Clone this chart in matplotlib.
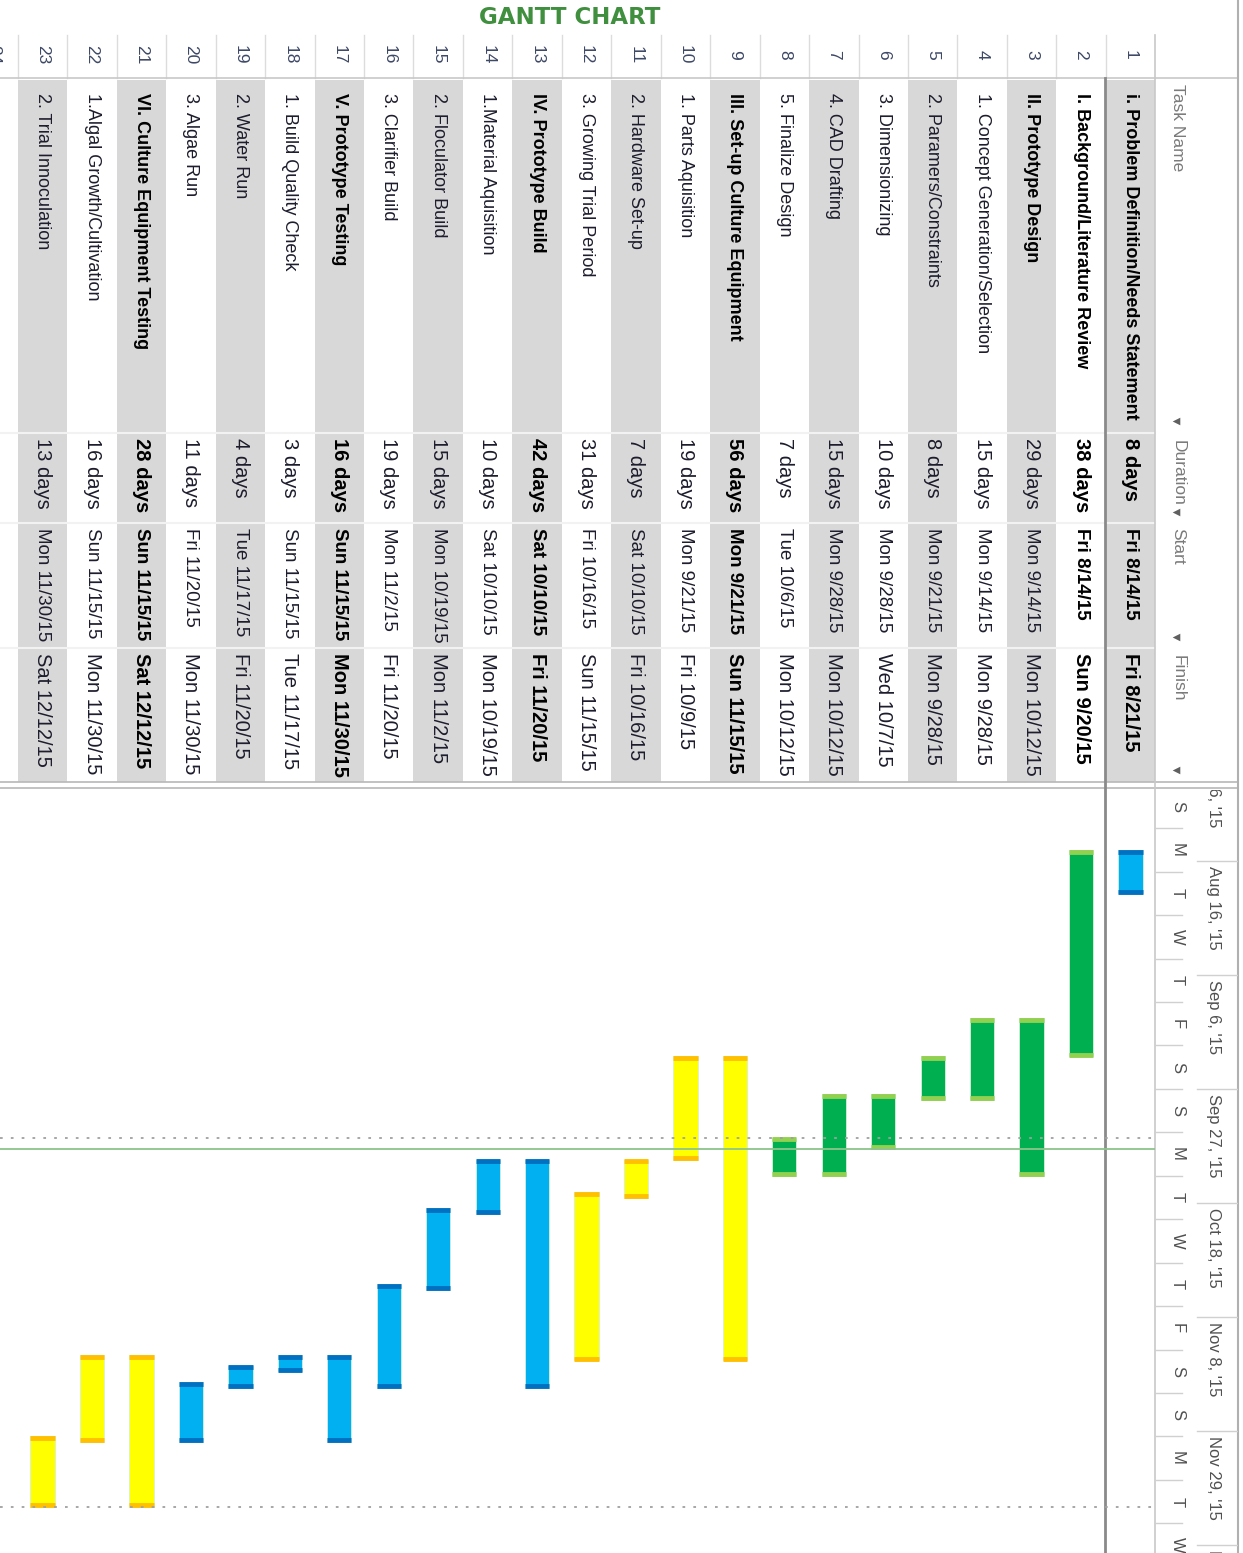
import datetime as dt
import matplotlib.pyplot as plt
import matplotlib.dates as mdates

plt.rcParams['font.family'] = ['Liberation Sans Narrow', 'Liberation Sans', 'DejaVu Sans']

# ---- data ----
row_ids = list(range(1, 24))
task_names = [
    "i. Problem Definition/Needs Statement",
    "I. Background/Literature Review",
    "II. Prototype Design",
    "1. Concept Generation/Selection",
    "2. Paramers/Constraints",
    "3. Dimensionizing",
    "4. CAD Drafting",
    "5. Finalize Design",
    "III. Set-up Culture Equipment",
    "1. Parts Aquisition",
    "2. Hardware Set-up",
    "3. Growing Trial Period",
    "IV. Prototype Build",
    "1.Material Aquisition",
    "2. Floculator Build",
    "3. Clarifier Build",
    "V. Prototype Testing",
    "1. Build Quality Check",
    "2. Water Run",
    "3. Algae Run",
    "VI. Culture Equipment Testing",
    "1.Algal Growth/Cultivation",
    "2. Trial Innoculation",
]
durations = ["8 days", "38 days", "29 days", "15 days", "8 days", "10 days", "15 days",
             "7 days", "56 days", "19 days", "7 days", "31 days", "42 days", "10 days",
             "15 days", "19 days", "16 days", "3 days", "4 days", "11 days", "28 days",
             "16 days", "13 days"]
starts = ["Fri 8/14/15", "Fri 8/14/15", "Mon 9/14/15", "Mon 9/14/15", "Mon 9/21/15",
          "Mon 9/28/15", "Mon 9/28/15", "Tue 10/6/15", "Mon 9/21/15", "Mon 9/21/15",
          "Sat 10/10/15", "Fri 10/16/15", "Sat 10/10/15", "Sat 10/10/15", "Mon 10/19/15",
          "Mon 11/2/15", "Sun 11/15/15", "Sun 11/15/15", "Tue 11/17/15", "Fri 11/20/15",
          "Sun 11/15/15", "Sun 11/15/15", "Mon 11/30/15"]
finishes = ["Fri 8/21/15", "Sun 9/20/15", "Mon 10/12/15", "Mon 9/28/15", "Mon 9/28/15",
            "Wed 10/7/15", "Mon 10/12/15", "Mon 10/12/15", "Sun 11/15/15", "Fri 10/9/15",
            "Fri 10/16/15", "Sun 11/15/15", "Fri 11/20/15", "Mon 10/19/15", "Mon 11/2/15",
            "Fri 11/20/15", "Mon 11/30/15", "Tue 11/17/15", "Fri 11/20/15", "Mon 11/30/15",
            "Sat 12/12/15", "Mon 11/30/15", "Sat 12/12/15"]
bar_group = ["blue"] + ["green"] * 7 + ["yellow"] * 4 + ["blue"] * 8 + ["yellow"] * 3
bold_name_rows = [1, 2, 3, 9, 13, 17, 21]
bold_field_rows = [1, 2, 9, 13, 17, 21]

# timescale
top_tier_dates = ["2015-07-26", "2015-08-16", "2015-09-06", "2015-09-27",
                  "2015-10-18", "2015-11-08", "2015-11-29", "2015-12-20"]
bottom_tier_start = "2015-08-02"
bottom_tier_letters = ["S", "M", "T", "W", "T", "F", "S", "S", "M", "T", "W", "T",
                       "F", "S", "S", "M", "T", "W", "T"]
status_date = "2015-10-08"
dotted_dates = ["2015-10-06", "2015-12-13"]

fills = {"blue": "#00b0f0", "green": "#00b050", "yellow": "#ffff00"}
caps = {"blue": "#0070c0", "green": "#92d050", "yellow": "#ffc000"}


def parse(s):
    return dt.datetime.strptime(s.split()[1], "%m/%d/%y")


W, H = 1243, 1553
fig = plt.figure(figsize=(W / 100, H / 100), dpi=100)
base = fig.add_axes([0, 0, 1, 1])
base.set_xlim(0, W)
base.set_ylim(H, 0)
base.axis("off")
renderer = fig.canvas.get_renderer()

pitch = 49.45
x1 = 1130.5


def xc(i):
    return x1 - (i - 1) * pitch


def fit(texts, maxlen, size):
    # shrink a column's font until its longest entry fits the cell
    while size > 6:
        for t in texts:
            t.set_fontsize(size)
        longest = max(t.get_window_extent(renderer).height for t in texts)
        if longest <= maxlen:
            break
        size -= 0.25


txt = "#1c1c2c"
shade = "#d8d8d8"

# title
base.text(570, 18, "GANTT CHART", ha="center", va="center", color="#3f8f3f",
          fontsize=16.5, fontweight="bold", family="DejaVu Sans")

# table rows
for i in row_ids + [24]:
    c = xc(i)
    if i % 2 == 1 and i <= 23:
        base.add_patch(plt.Rectangle((c - pitch / 2, 80), pitch, 702, color=shade, lw=0))
    base.plot([c - pitch / 2] * 2, [35, 78], color="#dcdcdc", lw=1)
    base.text(c, 55, str(i), rotation=270, ha="center", va="center", fontsize=12.5,
              color="#3d4866")

cols = {"name": [], "dur": [], "start": [], "finish": []}
for i, name, dur, st, fi in zip(row_ids, task_names, durations, starts, finishes):
    c = xc(i)
    wn = "bold" if i in bold_name_rows else "normal"
    wf = "bold" if i in bold_field_rows else "normal"
    cn = "#000000" if wn == "bold" else txt
    cf = "#000000" if wf == "bold" else txt
    cols["name"].append(base.text(c, 93, name, rotation=270, ha="center", va="top",
                                  fontweight=wn, color=cn))
    cols["dur"].append(base.text(c, 438, dur, rotation=270, ha="center", va="top",
                                 fontweight=wf, color=cf))
    cols["start"].append(base.text(c, 528, st, rotation=270, ha="center", va="top",
                                   fontweight=wf, color=cf))
    cols["finish"].append(base.text(c, 653, fi, rotation=270, ha="center", va="top",
                                    fontweight=wf, color=cf))
fit(cols["name"], 332, 15.5)
fit(cols["dur"], 80, 14.5)
fit(cols["start"], 116, 14.5)
fit(cols["finish"], 124, 14.5)

# table grid lines
for yy in [433, 523, 648]:
    base.plot([0, 1155], [yy, yy], color="#f2f2f2", lw=1.5)
base.plot([0, 1238], [78, 78], color="#c8c8c8", lw=1.2)
base.plot([0, 1238], [782, 782], color="#b8b8b8", lw=1.2)
base.plot([0, 1238], [788, 788], color="#b8b8b8", lw=1.2)
base.plot([1155, 1155], [35, H], color="#c8c8c8", lw=1.2)
base.plot([1238, 1238], [0, H], color="#b0b0b0", lw=1.5)
base.plot([1105, 1105], [78, H], color="#8a8a8a", lw=2)

# header column labels
hdr = "#7a7a7a"
base.text(1178, 84, "Task Name", rotation=270, ha="center", va="top", fontsize=12.5, color=hdr)
base.text(1178, 440, "Duration", rotation=270, ha="center", va="top", fontsize=12.5, color=hdr)
base.text(1178, 528, "Start", rotation=270, ha="center", va="top", fontsize=12.5, color=hdr)
base.text(1178, 655, "Finish", rotation=270, ha="center", va="top", fontsize=12.5, color=hdr)
base.scatter([1176] * 4, [421, 512, 637, 770], marker="<", s=30, color="#606060", lw=0)

# ---- gantt panel ----
px_day = 5.43
d0 = dt.datetime(2015, 8, 14)
top = mdates.date2num(d0) - (850 - 790) / px_day
bot = mdates.date2num(d0) + (H - 850) / px_day
gax = fig.add_axes([0, 0, 1155 / W, (H - 790) / H])
gax.set_xlim(1 + x1 / pitch, 1 - (1155 - x1) / pitch)
gax.set_ylim(bot, top)
gax.axis("off")

s_num = [mdates.date2num(parse(s)) for s in starts]
e_num = [mdates.date2num(parse(f)) + 1 for f in finishes]
for i, s, e, g in zip(row_ids, s_num, e_num, bar_group):
    gax.bar(i, e - s, bottom=s, width=0.49, color=fills[g], edgecolor="#d8f0d8",
            linewidth=0.6)
    gax.hlines([s + 0.3, e - 0.3], i - 0.245, i + 0.245, color=caps[g], lw=3.5)

for d in dotted_dates:
    y = mdates.date2num(dt.datetime.fromisoformat(d))
    gax.axhline(y, color="#a0a0a0", lw=1.3, ls=(0, (1.5, 4.5)))
gax.axhline(mdates.date2num(dt.datetime.fromisoformat(status_date)), color="#8cc48c", lw=1.3)

# timescale header
tax = fig.add_axes([1155 / W, 0, (1238 - 1155) / W, (H - 790) / H])
tax.set_xlim(0, 1)
tax.set_ylim(bot, top)
tax.axis("off")
for d in top_tier_dates:
    y = mdates.date2num(dt.datetime.fromisoformat(d))
    tax.plot([0.5, 1.0], [y, y], color="#d0d0d0", lw=1)
    lab = dt.datetime.fromisoformat(d).strftime("%b %-d, '%y")
    tax.text(0.7, y + 1.0, lab, rotation=270, ha="center", va="top", fontsize=12,
             color="#505050", clip_on=True)
b0 = mdates.date2num(dt.datetime.fromisoformat(bottom_tier_start))
for k, letter in enumerate(bottom_tier_letters):
    y = b0 + 8 * k
    tax.plot([0.0, 0.33], [y, y], color="#d0d0d0", lw=1)
    tax.text(0.27, y + 4, letter, rotation=270, ha="center", va="center", fontsize=12,
             color="#505050", clip_on=True)

fig.savefig("out.png", dpi=100)
